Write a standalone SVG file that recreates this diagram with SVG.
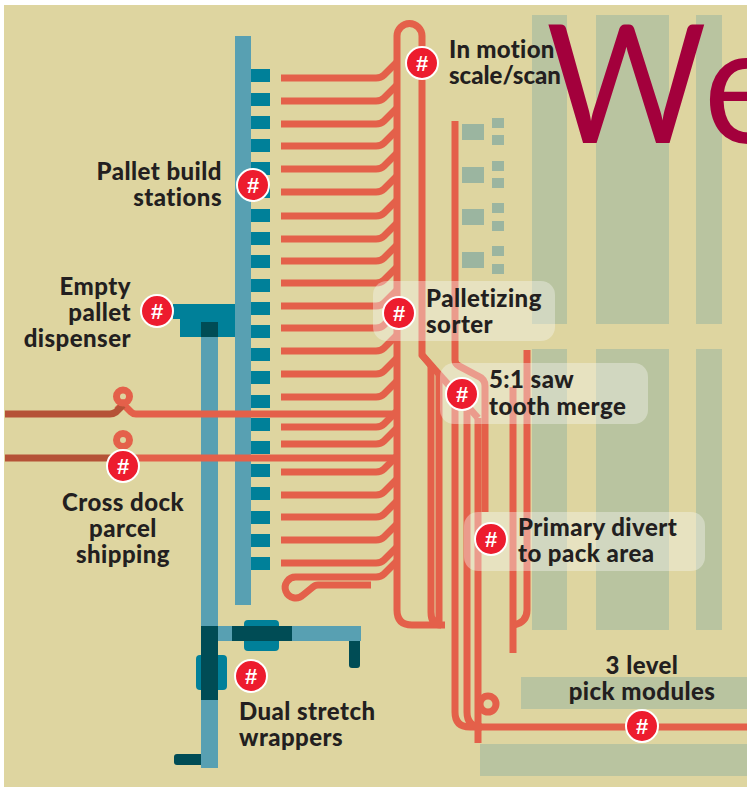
<svg xmlns="http://www.w3.org/2000/svg" width="747" height="788" viewBox="0 0 747 788">
<style>
.green{fill:#b9c4a0}
.sq{fill:#9bb5a0}
.rail{fill:#58a0b2}
.teal{fill:#008099}
.dark{fill:#004c55}
.c{fill:none;stroke:#e4604a;stroke-width:7}
.d{fill:none;stroke:#b55237;stroke-width:7}
.call{fill:#f6f6f0;fill-opacity:.4}
.t{font-family:Lato,"Liberation Sans",sans-serif;font-weight:900;font-size:24px;letter-spacing:.45px;fill:#231f20}
.e{text-anchor:end}
.m{text-anchor:middle}
.b circle{fill:#ed1c2e;stroke:#fff;stroke-width:2}
.b text{font-family:"Liberation Sans",sans-serif;font-weight:700;font-size:22px;fill:#fff;text-anchor:middle}
</style>
<defs>
<path id="row" d="M281 0H376Q381 0 384 -3L397 -16" class="c"/>
<rect id="stub" x="251" width="19" height="13" class="teal"/>
</defs>
<rect width="747" height="788" fill="#fff"/>
<rect x="4" y="5" width="743" height="782" fill="#ded5a0"/>
<g id="pick-areas">
<rect class="green" x="532" y="15" width="35" height="309"/>
<rect class="green" x="596" y="15" width="73" height="309"/>
<rect class="green" x="696" y="15" width="26" height="309"/>
<rect class="green" x="532" y="349" width="35" height="281"/>
<rect class="green" x="596" y="349" width="73" height="281"/>
<rect class="green" x="696" y="349" width="26" height="281"/>
<rect class="green" x="521" y="677" width="226" height="32"/>
<rect class="green" x="480" y="744" width="267" height="32"/>
<rect class="sq" x="462" y="124" width="22" height="16"/>
<rect class="sq" x="462" y="167" width="22" height="16"/>
<rect class="sq" x="462" y="209" width="22" height="16"/>
<rect class="sq" x="462" y="252" width="22" height="16"/>
<rect class="sq" x="492" y="118" width="12" height="10"/>
<rect class="sq" x="492" y="135" width="12" height="10"/>
<rect class="sq" x="492" y="161" width="12" height="10"/>
<rect class="sq" x="492" y="178" width="12" height="10"/>
<rect class="sq" x="492" y="203" width="12" height="10"/>
<rect class="sq" x="492" y="221" width="12" height="10"/>
<rect class="sq" x="492" y="246" width="12" height="10"/>
<rect class="sq" x="492" y="264" width="12" height="10"/>
</g>
<text transform="translate(546 143) scale(.94 1)" letter-spacing="6" font-family="Lato,'Liberation Sans',sans-serif" font-weight="400" font-size="165" fill="#a3003c">We</text>
<g id="pallet-build-stations">
<rect class="rail" x="235" y="36" width="16" height="569"/>
<use href="#stub" y="69"/><use href="#stub" y="93"/><use href="#stub" y="116"/><use href="#stub" y="139"/><use href="#stub" y="162"/><use href="#stub" y="185"/><use href="#stub" y="209"/><use href="#stub" y="232"/><use href="#stub" y="255"/><use href="#stub" y="279"/><use href="#stub" y="302"/><use href="#stub" y="325"/><use href="#stub" y="348"/><use href="#stub" y="371"/><use href="#stub" y="395"/><use href="#stub" y="418"/><use href="#stub" y="441"/><use href="#stub" y="464"/><use href="#stub" y="487"/><use href="#stub" y="511"/><use href="#stub" y="534"/><use href="#stub" y="557"/>
</g>
<g id="empty-pallet-dispenser">
<path class="teal" d="M173 304H235V337H180V319H173Z"/>
<rect class="rail" x="201" y="337" width="17" height="431"/>
<rect class="dark" x="201" y="322" width="17" height="15"/>
</g>
<g id="dual-stretch-wrappers">
<rect class="teal" x="244" y="620" width="35" height="31" rx="4"/>
<rect class="teal" x="196" y="655" width="31" height="35" rx="4"/>
<rect class="rail" x="218" y="626" width="143" height="15"/>
<rect class="dark" x="232" y="626" width="60" height="15"/>
<rect class="dark" x="201" y="626" width="17" height="74"/>
<path class="dark" d="M349 641H360V665Q360 668 357 668H352Q349 668 349 665Z"/>
<path class="dark" d="M201 754V765H177Q174 765 174 762V757Q174 754 177 754Z"/>
</g>
<g id="connectors">
<use href="#row" y="78"/><use href="#row" y="101"/><use href="#row" y="124"/><use href="#row" y="146"/><use href="#row" y="169"/><use href="#row" y="192"/><use href="#row" y="216"/><use href="#row" y="239"/><use href="#row" y="261"/><use href="#row" y="283"/><use href="#row" y="306"/><use href="#row" y="328"/><use href="#row" y="351"/><use href="#row" y="374"/><use href="#row" y="397"/><use href="#row" y="427"/><use href="#row" y="444"/><use href="#row" y="472"/><use href="#row" y="495"/><use href="#row" y="517"/><use href="#row" y="540"/><use href="#row" y="563"/>
<path class="c" d="M397 561L384 574Q381 577 376 577H296A10.500 10.500 0 1 0 303 595L313 587Q315 585 318 585H371"/>
<path class="c" d="M445 625H412Q397 625 397 610V36A12.500 12.500 0 0 1 422 36V355L433 368"/>
<path class="c" d="M422 355L478 418"/>
<path class="c" d="M431 366V612Q431 625 441 625M439 374V625"/>
<path class="c" d="M455 398V712Q455 727 470 727H747"/>
<path class="c" d="M467 410V712Q467 727 482 727"/>
<path class="c" d="M478 418V743"/>
<path class="c" d="M455 121V360Q455 364 459 366L478 376Q485 379 485 386V512"/>
<path class="c" d="M513 387V653"/>
<path class="c" d="M527 350V610Q527 622 514 625"/>
<circle class="c" cx="488" cy="704" r="8"/>
<path class="c" d="M136 414H397"/>
<path class="c" d="M117 410L123 404L131 412Q133 414 136 414"/>
<path class="d" d="M5 414H110Q113 414 116 412L123 405"/>
<circle class="c" cx="123" cy="396.500" r="6.500"/>
<circle class="c" cx="123" cy="440" r="6.500"/>
<path class="c" d="M123 458H397"/>
<path class="d" d="M5 458H123"/>
</g>
<g id="callouts">
<rect class="call" x="373" y="281" width="182" height="60" rx="14"/>
<rect class="call" x="440" y="363" width="208" height="61" rx="14"/>
<rect class="call" x="464" y="512" width="241" height="59" rx="14"/>
</g>
<g id="labels">
<text class="t" x="449" y="58" style="letter-spacing:.3px">In motion</text><text class="t" x="449" y="84" style="letter-spacing:0">scale/scan</text>
<text class="t e" x="222" y="180">Pallet build</text><text class="t e" x="222" y="206">stations</text>
<text class="t e" x="131" y="295">Empty</text><text class="t e" x="131" y="321">pallet</text><text class="t e" x="131" y="347">dispenser</text>
<text class="t m" x="123" y="511">Cross dock</text><text class="t m" x="123" y="537">parcel</text><text class="t m" x="123" y="563">shipping</text>
<text class="t" x="426" y="307">Palletizing</text><text class="t" x="426" y="333">sorter</text>
<text class="t" x="489" y="388">5:1 saw</text><text class="t" x="489" y="415">tooth merge</text>
<text class="t" x="518" y="536">Primary divert</text><text class="t" x="518" y="562">to pack area</text>
<text class="t m" x="642" y="674">3 level</text><text class="t m" x="642" y="700">pick modules</text>
<text class="t" x="239" y="720">Dual stretch</text><text class="t" x="239" y="746">wrappers</text>
</g>
<g id="badges">
<g class="b"><circle cx="422" cy="63" r="16"/><text x="422" y="71">#</text></g>
<g class="b"><circle cx="253" cy="185" r="16"/><text x="253" y="193">#</text></g>
<g class="b"><circle cx="157" cy="311" r="16"/><text x="157" y="319">#</text></g>
<g class="b"><circle cx="123" cy="466" r="16"/><text x="123" y="474">#</text></g>
<g class="b"><circle cx="399" cy="313" r="16"/><text x="399" y="321">#</text></g>
<g class="b"><circle cx="462" cy="394" r="16"/><text x="462" y="402">#</text></g>
<g class="b"><circle cx="491" cy="539" r="16"/><text x="491" y="547">#</text></g>
<g class="b"><circle cx="642" cy="726" r="16"/><text x="642" y="734">#</text></g>
<g class="b"><circle cx="251" cy="676" r="16"/><text x="251" y="684">#</text></g>
</g>
</svg>
